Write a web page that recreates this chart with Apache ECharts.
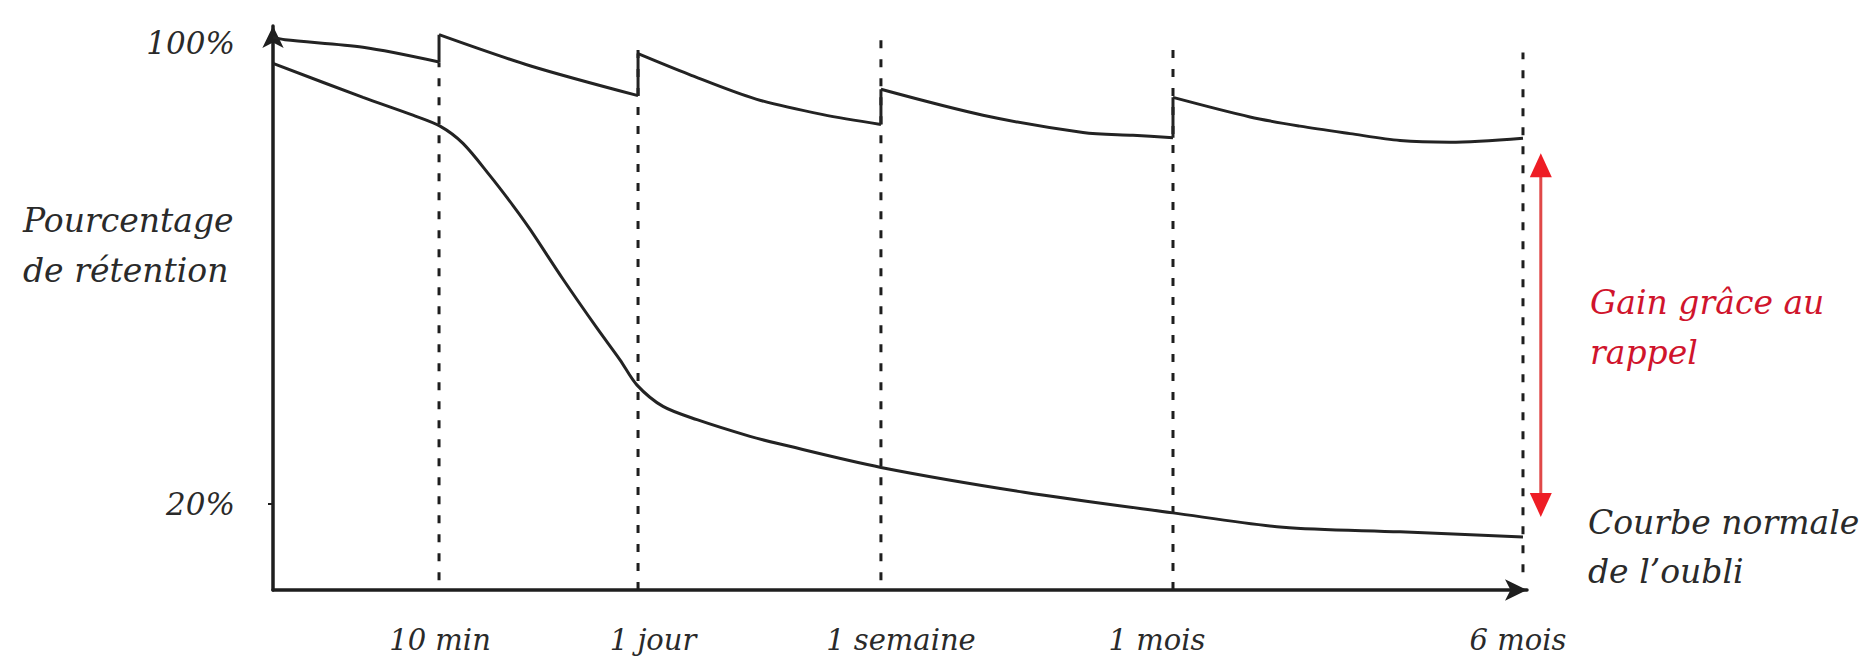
<!DOCTYPE html>
<html><head><meta charset="utf-8">
<script src="https://cdn.jsdelivr.net/npm/echarts@6/dist/echarts.min.js"></script>
<style>html,body{margin:0;padding:0;background:#fff}#c{width:1864px;height:658px}</style>
</head><body><div id="c"></div>
<script>
// Reminder moments (x position on the time axis, arbitrary units 0-100)
const reminderLabels = ['10 min', '1 jour', '1 semaine', '1 mois', '6 mois'];
const reminderX = [13.24, 29.11, 48.48, 71.77, 99.68];
const dashTop = [96.7, 100.5, 101.0, 100.1, 98.4];
const dashBottom = [6.7, 5, 6.7, 5, 8.1];
const yTickValues = [20, 100];

// Retention with reminders (upper curve); repeated x = jump at a reminder
const upperX = [0, 0.96, 7.18, 13.24, 13.24, 20.49, 29.11, 29.11, 33.17, 38.52, 43.86, 48.48, 48.48, 56.62, 64.59, 68.58, 71.77, 71.77, 77.91, 81.90, 85.89, 89.87, 93.86, 99.68];
const upperY = [101.06, 100.6, 99.3, 96.75, 101.5, 96.1, 90.9, 98.2, 94.6, 90.3, 87.6, 85.9, 92.0, 87.5, 84.5, 84.0, 83.6, 90.6, 87.2, 85.6, 84.3, 83.1, 82.8, 83.5];

// Normal forgetting curve (lower curve)
const lowerX = [0, 7.18, 11.16, 13.32, 15.15, 17.30, 19.14, 20.49, 23.13, 25.84, 27.67, 29.03, 31.10, 33.81, 38.04, 40.35, 48.48, 59.89, 71.77, 80.54, 89.87, 99.68];
const lowerY = [96.5, 90.6, 87.5, 85.6, 82.6, 77.0, 71.8, 67.7, 59.0, 50.5, 45.0, 40.6, 36.9, 34.6, 31.7, 30.4, 26.3, 22.0, 18.4, 15.9, 15.1, 14.2];

// Gain arrow: [x, from, to]
const gainArrow = [101.1, 17.7, 80.9];

const FONT = '"DejaVu Serif"';
const INK = '#232323';

// split the upper curve into smooth decay segments and straight vertical jumps
const segments = [[]];
const jumps = [];
upperX.forEach((x, i) => {
  if (i > 0 && x === upperX[i - 1]) {
    jumps.push([upperX[i - 1], upperY[i - 1]], [x, upperY[i]], null);
    segments.push([]);
  }
  segments[segments.length - 1].push([x, upperY[i]]);
});

const curveStyle = {color: INK, width: 3};
const segmentSeries = segments.map((seg, k) => ({
  type: 'line', name: 'Avec rappels ' + k, data: seg,
  showSymbol: false, symbol: 'none', smooth: 0.3, z: 3, lineStyle: curveStyle
}));

const chart = echarts.init(document.getElementById('c'), null, {renderer: 'svg'});
const labelRich = (pad) => ({fontFamily: FONT, fontStyle: 'italic', fontSize: 29, color: '#2a2a2a', padding: pad});
chart.setOption({
  animation: false,
  backgroundColor: '#ffffff',
  grid: {left: 273, right: 337, top: 26, bottom: 68, containLabel: false},
  xAxis: {
    type: 'value', min: 0, max: 100,
    splitLine: {show: false},
    axisTick: {show: false},
    axisLine: {show: true, symbol: ['none', 'arrow'], symbolSize: [16, 22],
      lineStyle: {color: '#1e1e1e', width: 3.5}},
    axisLabel: {
      customValues: reminderX,
      margin: 35,
      formatter: v => {
        const i = reminderX.indexOf(v);
        return i < 0 ? '' : '{s' + i + '|' + reminderLabels[i] + '}';
      },
      rich: {
        s0: labelRich([0, 0, 0, 2]),
        s1: labelRich([0, 0, 0, 30]),
        s2: labelRich([0, 0, 0, 40]),
        s3: labelRich([0, 32, 0, 0]),
        s4: labelRich([0, 10, 0, 0])
      }
    }
  },
  yAxis: {
    type: 'value', min: 5, max: 103,
    splitLine: {show: false},
    axisLine: {show: true, symbol: ['none', 'arrow'], symbolSize: [16, 22],
      lineStyle: {color: '#1e1e1e', width: 3.5}},
    axisTick: {show: true, customValues: [20], length: 5, lineStyle: {color: '#1e1e1e', width: 2}},
    axisLabel: {
      customValues: yTickValues, margin: 38,
      formatter: v => v + '%',
      fontFamily: FONT, fontStyle: 'italic', fontSize: 31, color: '#2a2a2a'
    }
  },
  series: [
    {
      type: 'custom', name: 'rappels', silent: true, z: 1,
      data: reminderX.map((x, i) => [x, dashBottom[i], dashTop[i]]),
      encode: {x: 0, y: [1, 2]},
      renderItem: (params, api) => {
        const a = api.coord([api.value(0), api.value(1)]);
        const b = api.coord([api.value(0), api.value(2)]);
        return {type: 'line', shape: {x1: a[0], y1: a[1], x2: b[0], y2: b[1]},
          style: {stroke: '#1e1e1e', lineWidth: 3, lineDash: [8, 11]}};
      }
    },
    ...segmentSeries,
    {
      type: 'line', name: 'Rappels (sauts)', data: jumps, connectNulls: false,
      showSymbol: false, symbol: 'none', smooth: false, z: 3, lineStyle: curveStyle
    },
    {
      type: 'line', name: "Courbe normale de l'oubli", data: lowerX.map((x, i) => [x, lowerY[i]]),
      showSymbol: false, symbol: 'none', smooth: 0.3, z: 3, lineStyle: curveStyle
    },
    {
      type: 'custom', name: 'gain', silent: true, z: 4,
      data: [gainArrow],
      encode: {x: 0, y: [1, 2]},
      renderItem: (params, api) => {
        const bot = api.coord([api.value(0), api.value(1)]);
        const top = api.coord([api.value(0), api.value(2)]);
        const hw = 11, hh = 24;
        return {type: 'group', children: [
          {type: 'line', shape: {x1: top[0], y1: top[1] + hh - 3, x2: bot[0], y2: bot[1] - hh + 3},
            style: {stroke: '#e04848', lineWidth: 3}},
          {type: 'polygon', shape: {points: [[top[0], top[1]], [top[0] - hw, top[1] + hh], [top[0] + hw, top[1] + hh]]},
            style: {fill: '#ee1d25'}},
          {type: 'polygon', shape: {points: [[bot[0], bot[1]], [bot[0] - hw, bot[1] - hh], [bot[0] + hw, bot[1] - hh]]},
            style: {fill: '#ee1d25'}}
        ]};
      }
    }
  ],
  graphic: [
    {type: 'text', left: 23, top: 195, style: {text: 'Pourcentage\nde rétention', font: 'italic 33px ' + FONT, fill: '#2a2a2a', lineHeight: 50}},
    {type: 'text', left: 1590, top: 277, style: {text: 'Gain grâce au\nrappel', font: 'italic 33px ' + FONT, fill: '#d0142c', lineHeight: 50}},
    {type: 'text', left: 1588, top: 498, style: {text: 'Courbe normale\nde l’oubli', font: 'italic 33px ' + FONT, fill: '#2a2a2a', lineHeight: 49}}
  ]
});
</script>
</body></html>
